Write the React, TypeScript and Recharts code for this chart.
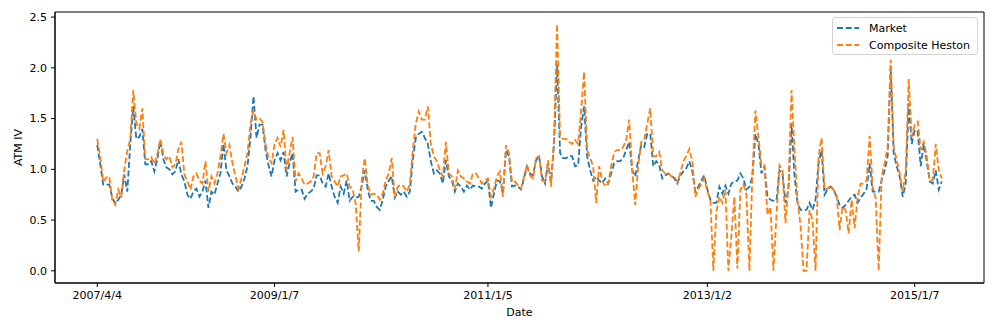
import React from 'react';
import { LineChart, Line, XAxis, YAxis, ReferenceArea } from 'recharts';

// ── ATM implied vol, market vs composite Heston (weekly) ──
const marketIV = [
  1.24, 1.05, 0.85, 0.85, 0.85, 0.72, 0.66, 0.70, 0.75, 0.95,
  0.78, 1.25, 1.62, 1.30, 1.32, 1.40, 1.05, 1.05, 1.08, 0.98,
  1.10, 1.28, 1.10, 1.02, 1.00, 0.95, 0.98, 1.10, 0.95, 0.88,
  0.75, 0.71, 0.78, 0.81, 0.73, 0.78, 0.89, 0.62, 0.78, 0.75,
  0.86, 0.96, 1.25, 0.99, 0.93, 0.86, 0.83, 0.78, 0.83, 0.91,
  1.03, 1.32, 1.72, 1.31, 1.44, 1.44, 1.19, 1.04, 0.93, 1.09,
  1.16, 1.09, 1.17, 0.93, 1.06, 1.16, 0.78, 0.80, 0.80, 0.71,
  0.76, 0.78, 0.81, 0.94, 0.94, 0.86, 0.83, 0.96, 0.83, 0.73,
  0.67, 0.83, 0.76, 0.89, 0.69, 0.73, 0.72, 0.73, 0.83, 0.99,
  0.80, 0.69, 0.69, 0.63, 0.60, 0.70, 0.83, 0.89, 0.93, 0.72,
  0.78, 0.75, 0.78, 0.73, 0.78, 1.09, 1.31, 1.35, 1.37, 1.31,
  1.25, 1.08, 0.96, 0.99, 0.96, 0.86, 1.09, 0.93, 0.89, 0.78,
  0.86, 0.83, 0.78, 0.84, 0.80, 0.84, 0.83, 0.83, 0.81, 0.86,
  0.89, 0.62, 0.76, 0.89, 0.88, 0.76, 1.19, 1.13, 0.83, 0.84,
  0.83, 0.80, 0.91, 1.03, 0.96, 0.94, 1.09, 1.13, 0.93, 0.86,
  1.06, 0.88, 1.25, 2.04, 1.16, 1.11, 1.11, 1.13, 1.13, 1.03,
  1.04, 1.42, 1.62, 1.13, 0.99, 0.89, 0.93, 0.89, 0.86, 0.91,
  0.86, 0.96, 1.06, 1.08, 1.08, 1.11, 1.19, 1.27, 0.99, 0.93,
  1.09, 1.24, 1.22, 1.35, 1.35, 1.03, 1.08, 1.04, 0.91, 0.94,
  0.96, 0.94, 0.91, 0.86, 0.94, 0.98, 1.01, 1.08, 0.98, 0.78,
  0.83, 0.89, 0.94, 0.80, 0.70, 0.67, 0.67, 0.83, 0.76, 0.84,
  0.76, 0.86, 0.88, 0.89, 0.96, 0.91, 0.80, 0.83, 0.93, 1.35,
  1.25, 0.96, 1.03, 0.73, 0.70, 0.69, 0.69, 0.99, 0.96, 0.67,
  0.80, 1.45, 0.93, 0.67, 0.60, 0.60, 0.60, 0.67, 0.60, 0.70,
  1.06, 1.19, 0.75, 0.80, 0.83, 0.80, 0.73, 0.65, 0.62, 0.65,
  0.69, 0.73, 0.75, 0.67, 0.72, 0.76, 0.81, 1.06, 0.78, 0.78,
  0.78, 0.89, 0.99, 1.13, 2.01, 1.16, 1.03, 0.93, 0.73, 0.86,
  1.65, 1.25, 1.39, 1.37, 1.03, 1.25, 1.08, 0.88, 0.86, 0.99,
  0.80, 0.88,
];

const hestonIV = [
  1.30, 1.12, 0.88, 0.92, 0.93, 0.70, 0.65, 0.80, 0.72, 1.00,
  1.18, 1.30, 1.78, 1.45, 1.40, 1.60, 1.10, 1.10, 1.12, 1.05,
  1.15, 1.30, 1.15, 1.10, 1.13, 1.02, 1.05, 1.20, 1.27, 0.95,
  0.88, 0.80, 0.93, 0.96, 0.89, 0.86, 1.08, 0.78, 0.93, 0.86,
  0.96, 1.13, 1.35, 1.16, 1.24, 1.06, 0.93, 0.81, 0.91, 1.03,
  1.16, 1.45, 1.58, 1.49, 1.50, 1.47, 1.25, 1.11, 1.06, 1.25,
  1.31, 1.22, 1.39, 0.99, 1.16, 1.32, 0.88, 0.96, 0.91, 0.85,
  0.86, 0.88, 0.93, 1.16, 1.16, 0.96, 1.03, 1.19, 0.93, 0.88,
  0.83, 0.93, 0.94, 0.96, 0.83, 0.80, 0.66, 0.19, 0.89, 1.11,
  0.85, 0.75, 0.76, 0.75, 0.70, 0.76, 0.89, 0.96, 1.11, 0.72,
  0.83, 0.85, 0.83, 0.78, 0.85, 1.19, 1.45, 1.57, 1.49, 1.49,
  1.62, 1.25, 1.13, 1.08, 0.99, 0.93, 1.27, 0.96, 0.93, 0.80,
  0.99, 0.93, 0.91, 0.88, 0.86, 0.96, 0.96, 0.91, 0.86, 0.89,
  0.91, 0.73, 0.81, 0.93, 0.98, 0.73, 1.24, 1.16, 0.88, 0.88,
  0.84, 0.81, 0.93, 1.04, 0.94, 0.91, 1.11, 1.13, 0.89, 0.88,
  1.09, 0.83, 1.32, 2.43, 1.32, 1.30, 1.30, 1.27, 1.25, 1.29,
  1.25, 1.58, 1.96, 1.19, 1.11, 1.03, 0.67, 1.03, 0.89, 0.83,
  0.86, 1.03, 1.17, 1.19, 1.19, 1.22, 1.29, 1.49, 0.99, 0.65,
  1.03, 1.27, 1.29, 1.45, 1.60, 1.13, 1.13, 1.17, 0.99, 0.96,
  0.96, 0.93, 0.93, 0.88, 0.96, 1.08, 1.13, 1.20, 1.08, 0.73,
  0.80, 0.86, 0.91, 0.78, 0.71, 0.00, 0.58, 0.73, 0.67, 0.80,
  0.00, 0.35, 0.73, 0.02, 0.80, 0.85, 0.75, 0.00, 0.96, 1.58,
  1.32, 1.04, 1.04, 0.55, 0.63, 0.00, 0.55, 1.04, 0.99, 0.47,
  0.86, 1.78, 1.19, 0.69, 0.45, 0.00, 0.00, 0.60, 0.50, 0.00,
  1.13, 1.31, 0.80, 0.81, 0.84, 0.80, 0.75, 0.40, 0.63, 0.60,
  0.37, 0.70, 0.42, 0.73, 0.86, 0.86, 0.89, 1.33, 0.83, 0.72,
  0.00, 0.93, 1.06, 1.22, 2.08, 1.22, 1.09, 0.96, 0.78, 0.99,
  1.89, 1.32, 1.44, 1.47, 1.19, 1.27, 1.13, 0.89, 0.89, 1.25,
  0.99, 0.91,
];

// x ticks sit on these observation indices
const tickIndex = [0, 59, 130, 203, 272];
const tickLabels = ['2007/4/4', '2009/1/7', '2011/1/5', '2013/1/2', '2015/1/7'];

const yTicks = [0, 0.5, 1, 1.5, 2, 2.5];
const yDomain = [-0.12, 2.55];

const BLUE = '#1f77b4';
const ORANGE = '#ff7f0e';
const FONT = '"DejaVu Sans", sans-serif';

const W = 997;
const H = 332;

const data = marketIV.map((m, i) => ({ idx: i, market: m, heston: hestonIV[i] }));

const last = marketIV.length - 1;
const xPad = last * 0.05;
const xDomain = [-xPad, last + xPad];

const tickStyle = { fill: '#000', fontSize: 11, fontFamily: FONT };

const LegendBox = () => (
  <div
    style={{
      position: 'absolute', left: 832, top: 17, width: 144, height: 36,
      border: '1px solid #d4d4d4', borderRadius: 3, background: 'rgba(255,255,255,0.8)',
      fontFamily: FONT, fontSize: 11, color: '#000',
    }}
  >
    {[{ c: BLUE, t: 'Market' }, { c: ORANGE, t: 'Composite Heston' }].map((e, i) => (
      <div key={i} style={{ position: 'absolute', left: 3, top: 2 + i * 17, height: 16, display: 'flex', alignItems: 'center' }}>
        <svg width={24} height={16}>
          <line x1={1} y1={8} x2={23} y2={8} stroke={e.c} strokeWidth={1.8} strokeDasharray="6 2.7" />
        </svg>
        <span style={{ marginLeft: 9, whiteSpace: 'nowrap' }}>{e.t}</span>
      </div>
    ))}
  </div>
);

export default function App() {
  return (
    <div style={{ position: 'absolute', left: 0, top: 0, width: W, height: H, background: '#fff' }}>
      <LineChart width={W} height={H} data={data} margin={{ top: 12, right: 13, left: 0, bottom: 0 }}>
        <XAxis
          dataKey="idx"
          type="number"
          domain={xDomain}
          allowDataOverflow
          ticks={tickIndex}
          tickFormatter={(v: number) => tickLabels[tickIndex.indexOf(v)] ?? ''}
          tick={tickStyle}
          tickSize={4}
          tickMargin={4}
          height={49}
          axisLine={{ stroke: '#000', strokeWidth: 1 }}
          tickLine={{ stroke: '#000' }}
          label={{
            content: ({ viewBox }: any) => (
              <text x={viewBox.x + viewBox.width / 2} y={312} textAnchor="middle" dominantBaseline="central"
                fontSize={11} fontFamily={FONT} fill="#000">Date</text>
            ),
          }}
        />
        <YAxis
          type="number"
          domain={yDomain}
          allowDataOverflow
          ticks={yTicks}
          tickFormatter={(v: number) => v.toFixed(1)}
          tick={tickStyle}
          tickSize={4}
          tickMargin={4}
          width={55}
          axisLine={{ stroke: '#000', strokeWidth: 1 }}
          tickLine={{ stroke: '#000' }}
          label={{
            content: ({ viewBox }: any) => {
              const cy = viewBox.y + viewBox.height / 2;
              return (
                <text x={18} y={cy} transform={`rotate(-90, 18, ${cy})`} textAnchor="middle" dominantBaseline="central"
                  fontSize={11} fontFamily={FONT} fill="#000">ATM IV</text>
              );
            },
          }}
        />
        {/* matplotlib-style frame round the plot area */}
        <ReferenceArea x1={xDomain[0]} x2={xDomain[1]} y1={yDomain[0]} y2={yDomain[1]}
          fill="none" stroke="#000" strokeWidth={1} ifOverflow="visible" />
        <Line type="linear" dataKey="market" name="Market" stroke={BLUE} strokeWidth={1.8}
          strokeDasharray="6 2.7" dot={false} activeDot={false} isAnimationActive={false} />
        <Line type="linear" dataKey="heston" name="Composite Heston" stroke={ORANGE} strokeWidth={1.8}
          strokeDasharray="6 2.7" dot={false} activeDot={false} isAnimationActive={false} />
      </LineChart>
      <LegendBox />
    </div>
  );
}
